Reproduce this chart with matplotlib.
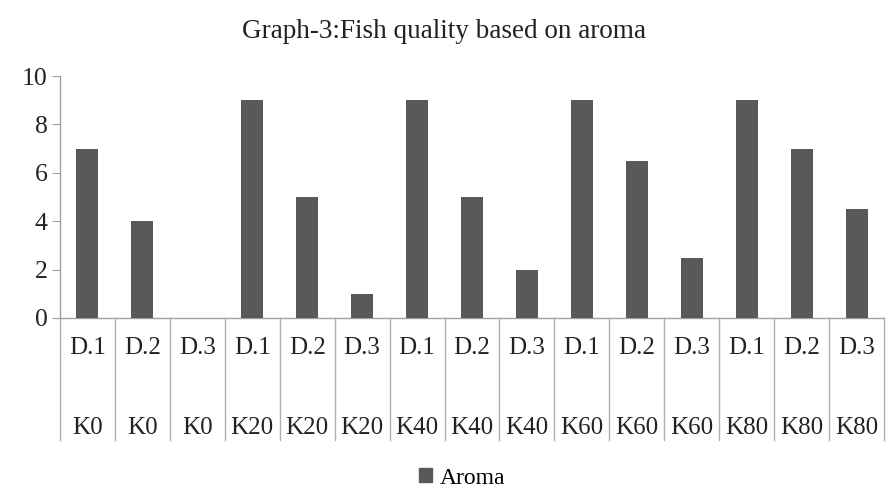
import matplotlib
matplotlib.use("Agg")
import matplotlib.pyplot as plt
from matplotlib.patches import Patch
import matplotlib.transforms as mtransforms

plt.rcParams['font.family'] = ['Liberation Serif', 'DejaVu Serif']

doses = ["D.1", "D.2", "D.3"] * 5
groups = ["K0"] * 3 + ["K20"] * 3 + ["K40"] * 3 + ["K60"] * 3 + ["K80"] * 3
aroma = [7, 4, 0, 9, 5, 1, 9, 5, 2, 9, 6.5, 2.5, 9, 7, 4.5]

W, H = 888, 492
fig = plt.figure(figsize=(W / 100, H / 100), dpi=100)
ax = fig.add_axes([60 / W, (H - 318) / H, (884 - 60) / W, (318 - 76) / H])

x = list(range(len(aroma)))
ax.bar(x, aroma, width=0.4, color="#595959", zorder=3)
ax.set_xlim(-0.5, len(aroma) - 0.5)
ax.set_ylim(0, 10)
ax.set_yticks([0, 2, 4, 6, 8, 10])
ax.tick_params(axis='y', labelsize=18.5, direction='out', length=6, color="#a0a0a0", pad=3,
               labelcolor="#222222")
ax.set_xticks([])
for s in ["top", "right"]:
    ax.spines[s].set_visible(False)
for s in ["left", "bottom"]:
    ax.spines[s].set_color("#a0a0a0")
    ax.spines[s].set_linewidth(1.0)

trans = mtransforms.blended_transform_factory(ax.transData, ax.transAxes)
for i in range(len(aroma) + 1):
    ax.plot([i - 0.5, i - 0.5], [0, -0.505], transform=trans, color="#b0b0b0",
            lw=1.0, clip_on=False)
for i, (d, g) in enumerate(zip(doses, groups)):
    ax.text(i, -0.125, d, transform=trans, ha='center', va='center', fontsize=18, color="#222222")
    ax.text(i, -0.455, g, transform=trans, ha='center', va='center', fontsize=18, color="#222222")

fig.text(0.5, (H - 31) / H, "Graph-3:Fish quality based on aroma", ha='center', va='center',
         fontsize=19.5, color="#222222")

fig.legend(handles=[Patch(color="#595959", label="Aroma")], loc='center',
           bbox_to_anchor=(462 / W, (H - 478) / H), frameon=False, fontsize=17,
           handlelength=0.55, handleheight=0.55, handletextpad=0.3)

fig.savefig("out.png", dpi=100)
